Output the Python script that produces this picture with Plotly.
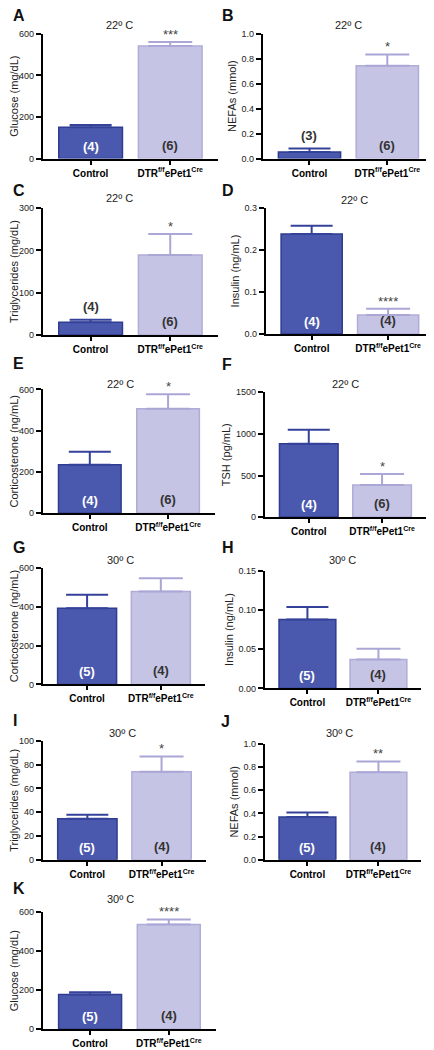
import plotly.graph_objects as go

categories = ["Control", "DTR<sup>f/f</sup>ePet1<sup>Cre</sup>"]
letters = ["A", "B", "C", "D", "E", "F", "G", "H", "I", "J", "K"]
temps = ["22º C"] * 6 + ["30º C"] * 5
ylabels = ["Glucose (mg/dL)", "NEFAs (mmol)", "Triglycerides (mg/dL)", "Insulin (ng/mL)",
           "Corticosterone (ng/mL)", "TSH (pg/mL)", "Corticosterone (ng/mL)", "Insulin (ng/mL)",
           "Triglycerides (mg/dL)", "NEFAs (mmol)", "Glucose (mg/dL)"]
control_mean = [151, 0.053, 30, 0.238, 234, 883, 392, 0.0878, 34.5, 0.369, 178]
control_sem = [11, 0.027, 6, 0.020, 64, 167, 69, 0.016, 3.3, 0.040, 12]
dtr_mean = [541, 0.743, 189, 0.045, 506, 386, 478, 0.037, 74, 0.756, 537]
dtr_sem = [19, 0.092, 50, 0.015, 70, 131, 68, 0.0134, 13, 0.093, 26]
control_n = [4, 3, 4, 4, 4, 4, 5, 5, 5, 5, 5]
dtr_n = [6, 6, 6, 4, 6, 6, 4, 4, 4, 4, 4]
control_n_above = [False, True, True, False, False, False, False, False, False, False, False]
sig = ["***", "*", "*", "****", "*", "*", "", "", "*", "**", "****"]
ymax = [600, 1.0, 300, 0.3, 600, 1500, 600, 0.15, 100, 1.0, 600]
dtick = [200, 0.2, 100, 0.1, 200, 500, 200, 0.05, 20, 0.2, 200]
tickformat = ["d", ".1f", "d", ".1f", "d", "d", "d", ".2f", "d", ".1f", "d"]

# page has an 8px body margin: the figure is drawn 8px in from the top-left corner
OFF = 8
W, H = 434 - OFF, 1050 - OFF
# layout in page pixels: plot box left, right, top, bottom
boxes = [(41, 217, 29, 155), (262, 434, 29, 155),
         (41, 217, 205, 333), (265, 434, 205, 332),
         (41, 214, 388, 513), (264, 426, 391, 517),
         (41, 204, 568, 686), (264, 421, 571, 690),
         (41, 205, 743, 863), (264, 421, 746, 863),
         (41, 215, 916, 1034)]
letter_pos = [(9, 11), (219, 11), (9, 187), (219, 187), (9, 362), (219, 363),
              (9, 548), (219, 548), (9, 722), (218, 723), (9, 892)]
title_y = [20, 20, 195, 197, 383, 383, 560, 560, 735, 735, 903]
title_xfrac = [0.44, 0.50, 0.44, 0.53, 0.45, 0.50, 0.48, 0.50, 0.49, 0.48, 0.45]


def px(x):
    return (x - OFF) / W


def py(y):
    return 1 - (y - OFF) / H


CTRL_FILL, CTRL_LINE, CTRL_ERR = "#4a59ad", "#2f3c8f", "#34429a"
DTR_FILL, DTR_LINE, DTR_ERR = "#c6c4e5", "#b0acd8", "#aaa6d5"
FONT = "Arial, Liberation Sans, sans-serif"

fig = go.Figure()
annotations = []
layout = {}
for i in range(11):
    k = "" if i == 0 else str(i + 1)
    xa, ya = "x" + k, "y" + k
    l, r, t, b = boxes[i]
    layout["xaxis" + k] = dict(
        domain=[px(l), min(px(r), 1)], anchor=ya, range=[-0.6, 1.6],
        tickvals=[0, 1], ticktext=["<b>%s</b>" % c for c in categories],
        ticks="outside", ticklen=4, tickwidth=1.5, tickcolor="black",
        showline=True, linecolor="black", linewidth=2, showgrid=False, zeroline=False,
        tickfont=dict(size=10, color="black", family=FONT), fixedrange=True)
    layout["yaxis" + k] = dict(
        domain=[py(b), py(t)], anchor=xa, range=[0, ymax[i]],
        dtick=dtick[i], tick0=0, tickformat=tickformat[i],
        ticks="outside", ticklen=5, tickwidth=1.5, tickcolor="black",
        showline=True, linecolor="black", linewidth=2, showgrid=False, zeroline=False,
        tickfont=dict(size=9, color="#222", family=FONT),
        title=dict(text=ylabels[i], font=dict(size=11, color="#222", family=FONT), standoff=3),
        fixedrange=True)
    fig.add_trace(go.Bar(
        x=[0], y=[control_mean[i]], width=0.8, xaxis=xa, yaxis=ya,
        marker=dict(color=CTRL_FILL, line=dict(color=CTRL_LINE, width=1.5)),
        error_y=dict(type="data", array=[control_sem[i]], arrayminus=[0], symmetric=False,
                     color=CTRL_ERR, thickness=2, width=21),
        showlegend=False))
    fig.add_trace(go.Bar(
        x=[1], y=[dtr_mean[i]], width=0.8, xaxis=xa, yaxis=ya,
        marker=dict(color=DTR_FILL, line=dict(color=DTR_LINE, width=1.5)),
        error_y=dict(type="data", array=[dtr_sem[i]], arrayminus=[0], symmetric=False,
                     color=DTR_ERR, thickness=2, width=22),
        showlegend=False))
    # n labels
    if control_n_above[i]:
        annotations.append(dict(x=0, y=control_mean[i] + control_sem[i], xref=xa, yref=ya,
                                text="<b>(%d)</b>" % control_n[i], showarrow=False,
                                yanchor="bottom", yshift=4,
                                font=dict(size=13, color="#333", family=FONT)))
    else:
        annotations.append(dict(x=0, y=0, xref=xa, yref=ya, text="<b>(%d)</b>" % control_n[i],
                                showarrow=False, yanchor="bottom", yshift=3,
                                font=dict(size=13, color="white", family=FONT)))
    annotations.append(dict(x=1, y=0, xref=xa, yref=ya, text="<b>(%d)</b>" % dtr_n[i],
                            showarrow=False, yanchor="bottom", yshift=4,
                            font=dict(size=13, color="#333", family=FONT)))
    if sig[i]:
        annotations.append(dict(x=1, y=dtr_mean[i] + dtr_sem[i], xref=xa, yref=ya, text=sig[i],
                                showarrow=False, yanchor="bottom", yshift=-2,
                                font=dict(size=13, color="#444", family=FONT)))
    # title
    annotations.append(dict(x=px(l + title_xfrac[i] * (r - l)), y=py(title_y[i]),
                            xref="paper", yref="paper", text=temps[i], showarrow=False,
                            xanchor="center", yanchor="middle",
                            font=dict(size=11, color="#222", family=FONT)))
    # panel letter
    lx, ly = letter_pos[i]
    annotations.append(dict(x=px(lx), y=py(ly), xref="paper", yref="paper",
                            text="<b>%s</b>" % letters[i], showarrow=False,
                            xanchor="left", yanchor="middle",
                            font=dict(size=16, color="#111", family=FONT)))

fig.update_layout(width=W, height=H, margin=dict(l=0, r=0, t=0, b=0),
                  paper_bgcolor="white", plot_bgcolor="white",
                  annotations=annotations, font=dict(family=FONT), **layout)
fig.write_html("out.html")
